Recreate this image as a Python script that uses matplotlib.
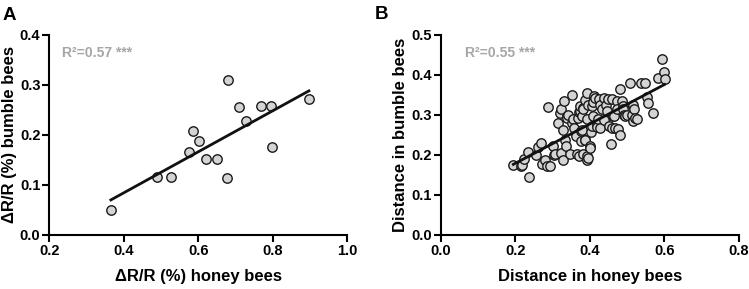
import numpy as np
import matplotlib.pyplot as plt

plt.rcParams['font.family'] = ['Liberation Sans', 'DejaVu Sans']
plt.rcParams['font.weight'] = 'bold'

# panel A: dR/R (%) honey bees vs bumble bees
honey_a = [0.365, 0.490, 0.527, 0.574, 0.586, 0.601, 0.620, 0.650, 0.677, 0.680,
           0.710, 0.728, 0.767, 0.795, 0.797, 0.897]
bumble_a = [0.050, 0.115, 0.115, 0.165, 0.208, 0.187, 0.152, 0.152, 0.113, 0.309,
            0.255, 0.228, 0.258, 0.258, 0.176, 0.271]
fit_a = (0.410, -0.0796)   # slope, intercept
r2_a = "R²=0.57 ***"

# panel B: distance in honey bees vs bumble bees
honey_b = [0.195, 0.215, 0.217, 0.224, 0.234, 0.238, 0.255, 0.261, 0.270, 0.272,
           0.280, 0.285, 0.293, 0.287, 0.301, 0.304, 0.307, 0.316, 0.319, 0.322,
           0.324, 0.328, 0.329, 0.332, 0.334, 0.336, 0.338, 0.340, 0.343, 0.347,
           0.352, 0.353, 0.356, 0.358, 0.363, 0.367, 0.369, 0.370, 0.372, 0.373,
           0.374, 0.376, 0.377, 0.378, 0.380, 0.381, 0.383, 0.383, 0.386, 0.386,
           0.388, 0.392, 0.392, 0.394, 0.394, 0.396, 0.396, 0.401, 0.401, 0.403,
           0.405, 0.405, 0.410, 0.410, 0.412, 0.414, 0.419, 0.419, 0.423, 0.426,
           0.428, 0.428, 0.432, 0.437, 0.439, 0.444, 0.447, 0.450, 0.453, 0.456,
           0.459, 0.460, 0.463, 0.464, 0.468, 0.472, 0.474, 0.477, 0.480, 0.481,
           0.486, 0.489, 0.490, 0.492, 0.495, 0.499, 0.508, 0.513, 0.515, 0.517,
           0.519, 0.521, 0.526, 0.537, 0.548, 0.553, 0.557, 0.571, 0.584, 0.594,
           0.600, 0.601]
bumble_b = [0.176, 0.173, 0.174, 0.190, 0.207, 0.146, 0.199, 0.221, 0.230, 0.178,
            0.188, 0.173, 0.173, 0.319, 0.222, 0.200, 0.203, 0.280, 0.305, 0.206,
            0.314, 0.188, 0.262, 0.335, 0.238, 0.222, 0.297, 0.293, 0.299, 0.203,
            0.351, 0.279, 0.289, 0.268, 0.247, 0.203, 0.293, 0.307, 0.198, 0.309,
            0.322, 0.260, 0.234, 0.263, 0.297, 0.318, 0.314, 0.203, 0.238, 0.337,
            0.238, 0.289, 0.354, 0.197, 0.188, 0.324, 0.192, 0.222, 0.217, 0.258,
            0.272, 0.322, 0.332, 0.297, 0.347, 0.343, 0.276, 0.270, 0.289, 0.339,
            0.268, 0.326, 0.314, 0.343, 0.287, 0.324, 0.310, 0.339, 0.272, 0.228,
            0.268, 0.340, 0.297, 0.297, 0.268, 0.334, 0.314, 0.264, 0.365, 0.251,
            0.335, 0.322, 0.314, 0.299, 0.297, 0.301, 0.380, 0.299, 0.324, 0.284,
            0.314, 0.293, 0.289, 0.380, 0.379, 0.345, 0.329, 0.304, 0.393, 0.441,
            0.407, 0.390]
fit_b = (0.492, 0.0806)
r2_b = "R²=0.55 ***"

fig = plt.figure(figsize=(7.49, 2.89), dpi=100)
axA = fig.add_axes([0.066, 0.187, 0.3976, 0.692])
axB = fig.add_axes([0.5884, 0.187, 0.3979, 0.692])


def style(ax):
    for s in ['top', 'right']:
        ax.spines[s].set_visible(False)
    for s in ['left', 'bottom']:
        ax.spines[s].set_linewidth(1.5)
    ax.tick_params(direction='out', length=5, width=1.5, labelsize=10.5, pad=1.5)
    for lab in ax.get_xticklabels() + ax.get_yticklabels():
        lab.set_fontweight('bold')


def panel(ax, x, y, fit, r2, r2x, xlim, ylim, xt, yt, xlabel, ylabel):
    x = np.array(x)
    ax.scatter(x, y, s=46, facecolor='#d4d4d4', edgecolor='#1a1a1a',
               linewidth=1.0, zorder=3)
    xx = np.array([x.min(), x.max()])
    ax.plot(xx, fit[0] * xx + fit[1], color='#111111', lw=2.0, zorder=4)
    ax.set_xlim(*xlim)
    ax.set_ylim(*ylim)
    ax.set_xticks(xt)
    ax.set_yticks(yt)
    ax.set_xticklabels(['%.1f' % t for t in xt])
    ax.set_yticklabels(['%.1f' % t for t in yt])
    ax.set_xlabel(xlabel, fontsize=12, fontweight='bold', labelpad=8)
    ax.set_ylabel(ylabel, fontsize=12, fontweight='bold', labelpad=2)
    ax.text(r2x, 0.91, r2, transform=ax.transAxes, color='#a6a6a6',
            fontsize=10, fontweight='bold', ha='left', va='center')
    style(ax)


panel(axA, honey_a, bumble_a, fit_a, r2_a, 0.042, (0.2, 1.0), (0.0, 0.4),
      [0.2, 0.4, 0.6, 0.8, 1.0], [0.0, 0.1, 0.2, 0.3, 0.4],
      'ΔR/R (%) honey bees', 'ΔR/R (%) bumble bees')
panel(axB, honey_b, bumble_b, fit_b, r2_b, 0.082, (0.0, 0.8), (0.0, 0.5),
      [0.0, 0.2, 0.4, 0.6, 0.8], [0.0, 0.1, 0.2, 0.3, 0.4, 0.5],
      'Distance in honey bees', 'Distance in bumble bees')

fig.text(0.003, 0.975, 'A', fontsize=13.5, fontweight='bold', va='top', ha='left')
fig.text(0.501, 0.98, 'B', fontsize=13.5, fontweight='bold', va='top', ha='left')

fig.savefig('out.png', dpi=100)
